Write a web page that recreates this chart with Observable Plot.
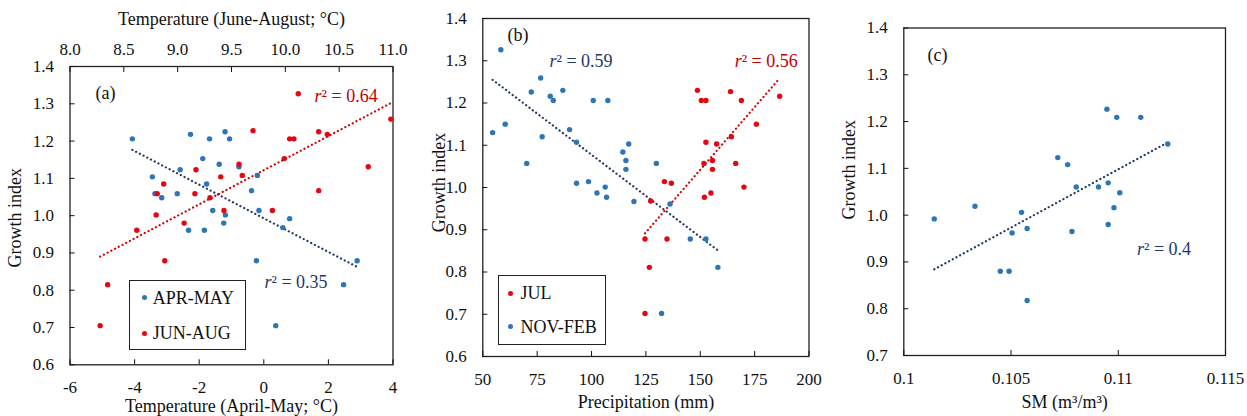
<!DOCTYPE html>
<html><head><meta charset="utf-8">
<script src="https://cdn.jsdelivr.net/npm/d3@7"></script>
<script src="https://cdn.jsdelivr.net/npm/@observablehq/plot@0.6"></script>
<style>
body{margin:0;background:#fff;}
#wrap{position:relative;width:1247px;height:416px;overflow:hidden;font-family:"Liberation Serif",serif;color:#111;}
#wrap svg, #wrap svg text{font-family:"Liberation Serif",serif !important;}
.panel{position:absolute;top:0;}
.legend{position:absolute;border:1.5px solid #222;background:#fff;box-sizing:border-box;}
.lg-dot{position:absolute;width:5px;height:5px;border-radius:50%;}
.lg-txt{position:absolute;font-size:18px;line-height:18px;white-space:nowrap;font-family:"Liberation Serif",serif;}
</style></head><body><div id="wrap"></div>
<script>
// ---------- data ----------
// Panel (a)
const aprMayTemp = [-4.07,-2.27,-1.68,-1.20,-1.06,-1.89,-1.38,-0.77,-2.59,-3.45,-0.20,-1.77,-3.37,-3.16,-2.68,-0.38,-1.58,-1.19,-0.15,-1.24,0.80,0.59,-2.33,-1.84,-0.23,2.89,2.47,0.37];
const aprMayGrowth = [1.206,1.218,1.206,1.225,1.206,1.153,1.138,1.131,1.123,1.104,1.108,1.085,1.059,1.048,1.059,1.067,1.014,1.002,1.014,0.980,0.992,0.968,0.961,0.961,0.879,0.879,0.815,0.705];
const junAugTemp = [10.12,10.98,9.70,10.31,10.39,10.04,10.08,9.99,9.57,10.77,9.17,9.60,9.40,8.87,10.31,8.81,9.16,9.30,9.43,9.88,8.80,9.06,8.62,8.88,8.35,8.28];
const junAugGrowth = [1.327,1.259,1.228,1.225,1.218,1.206,1.206,1.153,1.138,1.131,1.123,1.108,1.104,1.085,1.067,1.059,1.059,1.048,1.014,1.014,1.002,0.980,0.961,0.879,0.815,0.705];
// Panel (b)
const novFebPrecip = [58.3,54.5,60.3,76.6,72.3,81.0,82.4,86.8,77.3,70.2,89.9,93.1,100.8,107.5,114.4,117.1,115.8,115.8,129.8,93.1,98.6,102.5,106.3,106.9,119.5,136.1,145.4,152.6,158.1,132.2];
const novFebGrowth = [1.326,1.130,1.150,1.259,1.226,1.216,1.206,1.230,1.120,1.057,1.137,1.107,1.206,1.206,1.084,1.103,1.064,1.043,1.057,1.010,1.014,0.987,1.001,0.977,0.967,0.961,0.878,0.878,0.811,0.702];
const julPrecip = [148.7,150.5,152.6,163.9,168.9,186.5,175.8,164.3,152.6,157.5,151.7,155.6,155.6,166.3,133.5,136.7,170.1,151.9,154.9,127.2,124.6,134.7,126.6,124.6];
const julGrowth = [1.230,1.206,1.206,1.227,1.206,1.216,1.150,1.120,1.107,1.103,1.057,1.064,1.043,1.057,1.014,1.010,1.001,0.977,0.987,0.968,0.878,0.878,0.811,0.702];
// Panel (c)
const smValues = [0.10947,0.10993,0.11105,0.11231,0.10718,0.10764,0.10804,0.10908,0.10953,0.11007,0.10980,0.10332,0.10142,0.10549,0.10505,0.10575,0.10784,0.10953,0.10450,0.10491,0.10575];
const smGrowth = [1.2265,1.209,1.209,1.152,1.123,1.108,1.060,1.060,1.069,1.048,1.016,1.019,0.992,1.006,0.962,0.9715,0.965,0.980,0.880,0.880,0.8176];

// tick labels / text
const growthTicksAB = [0.6,0.7,0.8,0.9,1.0,1.1,1.2,1.3,1.4];
const growthTicksC = [0.7,0.8,0.9,1.0,1.1,1.2,1.3,1.4];
const aprMayTicks = [-6,-4,-2,0,2,4];
const junAugTicks = [8.0,8.5,9.0,9.5,10.0,10.5,11.0];
const precipTicks = [50,75,100,125,150,175,200];
const smTicks = [0.1,0.105,0.11,0.115];
const seriesA = ["APR-MAY","JUN-AUG"];
const seriesB = ["JUL","NOV-FEB"];
const r2A = ["0.64","0.35"], r2B = ["0.59","0.56"], r2C = ["0.4"];

// ---------- styling ----------
const BLUE = "#2e75b6", RED = "#e30613", NAVY = "#1f3864", DRED = "#d40000", RTXT = "#c00000";
const FONT = "Liberation Serif";
const style = {fontFamily: FONT, fontSize: "17px", color: "#111", background: "transparent", overflow: "visible"};
const dash = {strokeWidth: 2.2, strokeDasharray: "0.1,4.1", strokeLinecap: "round", ci: 0};

const toBottom = t => (t - 8) / 0.3 - 6;  // June-August temp -> April-May axis position
const toTop = x => (x + 6) * 0.3 + 8;

function yAxis(ticks) {
  return Plot.axisY({ticks, tickSize: -5, tickPadding: 21, tickFormat: d => d.toFixed(1), label: null, fontFamily: FONT});
}
function yTitle(dx, dy) {
  return Plot.text(["Growth index"], {frameAnchor: "left", rotate: -90, dx, dy, fontSize: 18, fontFamily: FONT, textAnchor: "middle", lineAnchor: "middle", fill: "#111"});
}
function r2(label, x, y, color, size) {
  return [
    Plot.text([{x, y}], {x: "x", y: "y", text: () => "r", fontStyle: "italic", fontFamily: FONT, textAnchor: "end", fill: color, fontSize: size}),
    Plot.text([{x, y}], {x: "x", y: "y", text: () => "\u00b2 = " + label, fontFamily: FONT, textAnchor: "start", fill: color, fontSize: size})
  ];
}
function label(txt, opts) {
  return Plot.text([txt], {fontSize: 18, fontFamily: FONT, lineAnchor: "middle", fill: "#111", ...opts});
}

const wrap = document.getElementById("wrap");
function place(svg, left) { svg.classList.add("panel"); svg.style.left = left + "px"; wrap.appendChild(svg); }

// ---------- panel (a) ----------
const aBlue = aprMayTemp.map((x, i) => ({x, y: aprMayGrowth[i]}));
const aRed = junAugTemp.map((t, i) => ({x: toBottom(t), y: junAugGrowth[i]}));
const plotA = Plot.plot({
  width: 410, height: 416, marginLeft: 69.5, marginRight: 17.5, marginTop: 66, marginBottom: 51.7,
  x: {domain: [-6, 4]}, y: {domain: [0.6, 1.4]}, style,
  marks: [
    Plot.frame({stroke: "#222", strokeWidth: 1.3}),
    yAxis(growthTicksAB),
    Plot.axisX({ticks: aprMayTicks, tickSize: -5, tickPadding: 21, tickFormat: d => String(d), label: null, fontFamily: FONT}),
    Plot.axisX(junAugTicks.map(toBottom), {anchor: "top", tickSize: -5, tickPadding: 16.5, tickFormat: d => toTop(d).toFixed(1), label: null, fontFamily: FONT}),
    yTitle(-54.5, 2),
    label("Temperature (April-May; \u00b0C)", {frameAnchor: "bottom", dy: 41.5}),
    label("Temperature (June-August; \u00b0C)", {frameAnchor: "top", dy: -47}),
    Plot.linearRegressionY(aBlue, {x: "x", y: "y", stroke: NAVY, ...dash}),
    Plot.linearRegressionY(aRed, {x: "x", y: "y", stroke: DRED, ...dash}),
    Plot.dot(aBlue, {x: "x", y: "y", r: 2.7, fill: BLUE}),
    Plot.dot(aRed, {x: "x", y: "y", r: 2.7, fill: RED}),
    label("(a)", {frameAnchor: "top-left", dx: 25.5, dy: 27, textAnchor: "start"}),
    ...r2(r2A[0], 1.79, 1.32, RTXT, 18),
    ...r2(r2A[1], 0.24, 0.822, NAVY, 18)
  ]
});
place(plotA, 0);

// ---------- panel (b) ----------
const bBlue = novFebPrecip.map((x, i) => ({x, y: novFebGrowth[i]}));
const bRed = julPrecip.map((x, i) => ({x, y: julGrowth[i]}));
const plotB = Plot.plot({
  width: 420, height: 416, marginLeft: 72.3, marginRight: 21.5, marginTop: 18, marginBottom: 60,
  x: {domain: [50, 200]}, y: {domain: [0.6, 1.4]}, style,
  marks: [
    Plot.frame({stroke: "#222", strokeWidth: 1.3}),
    yAxis(growthTicksAB),
    Plot.axisX({ticks: precipTicks, tickSize: -5, tickPadding: 21, tickFormat: d => String(d), label: null, fontFamily: FONT}),
    yTitle(-44, -5),
    label("Precipitation (mm)", {frameAnchor: "bottom", dy: 45.7}),
    Plot.linearRegressionY(bBlue, {x: "x", y: "y", stroke: NAVY, ...dash}),
    Plot.linearRegressionY(bRed, {x: "x", y: "y", stroke: DRED, ...dash}),
    Plot.dot(bBlue, {x: "x", y: "y", r: 2.7, fill: BLUE}),
    Plot.dot(bRed, {x: "x", y: "y", r: 2.7, fill: RED}),
    label("(b)", {frameAnchor: "top-left", dx: 24.7, dy: 17, textAnchor: "start"}),
    ...r2(r2B[0], 83.9, 1.30, NAVY, 18),
    ...r2(r2B[1], 169.05, 1.30, RTXT, 18)
  ]
});
place(plotB, 410);

// ---------- panel (c) ----------
const cData = smValues.map((x, i) => ({x, y: smGrowth[i]}));
const plotC = Plot.plot({
  width: 417, height: 416, marginLeft: 73.3, marginRight: 22, marginTop: 27.5, marginBottom: 61,
  x: {domain: [0.1, 0.115]}, y: {domain: [0.7, 1.4]}, style,
  marks: [
    Plot.frame({stroke: "#222", strokeWidth: 1.3}),
    yAxis(growthTicksC),
    Plot.axisX({ticks: smTicks, tickSize: -5, tickPadding: 21, tickFormat: d => String(d), label: null, fontFamily: FONT}),
    yTitle(-54.3, -22),
    label("SM (m\u00b3/m\u00b3)", {frameAnchor: "bottom", dy: 46.7}),
    Plot.linearRegressionY(cData, {x: "x", y: "y", stroke: NAVY, ...dash}),
    Plot.dot(cData, {x: "x", y: "y", r: 2.7, fill: BLUE}),
    label("(c)", {frameAnchor: "top-left", dx: 23.7, dy: 27.5, textAnchor: "start"}),
    ...r2(r2C[0], 0.1112, 0.927, NAVY, 18)
  ]
});
place(plotC, 830);

// ---------- legends (HTML overlays) ----------
function legend(box, items) {
  const div = document.createElement("div");
  div.className = "legend";
  Object.assign(div.style, {left: box[0] + "px", top: box[1] + "px", width: box[2] + "px", height: box[3] + "px"});
  wrap.appendChild(div);
  items.forEach(it => {
    const dot = document.createElement("span");
    dot.className = "lg-dot";
    Object.assign(dot.style, {left: (it.dx - 2.5) + "px", top: (it.cy - 2.5) + "px", background: it.color});
    wrap.appendChild(dot);
    const t = document.createElement("span");
    t.className = "lg-txt";
    t.textContent = it.label;
    Object.assign(t.style, {left: it.tx + "px", top: (it.cy - 9) + "px"});
    wrap.appendChild(t);
  });
}
legend([129.3, 280, 116.7, 70], [
  {label: seriesA[0], color: BLUE, dx: 144, tx: 152.7, cy: 297.7},
  {label: seriesA[1], color: RED, dx: 144, tx: 152.7, cy: 333.3}
]);
legend([498.3, 275, 107.4, 70.3], [
  {label: seriesB[0], color: RED, dx: 510.7, tx: 520.5, cy: 293.3},
  {label: seriesB[1], color: BLUE, dx: 510.7, tx: 520.5, cy: 326.7}
]);
</script></body></html>
